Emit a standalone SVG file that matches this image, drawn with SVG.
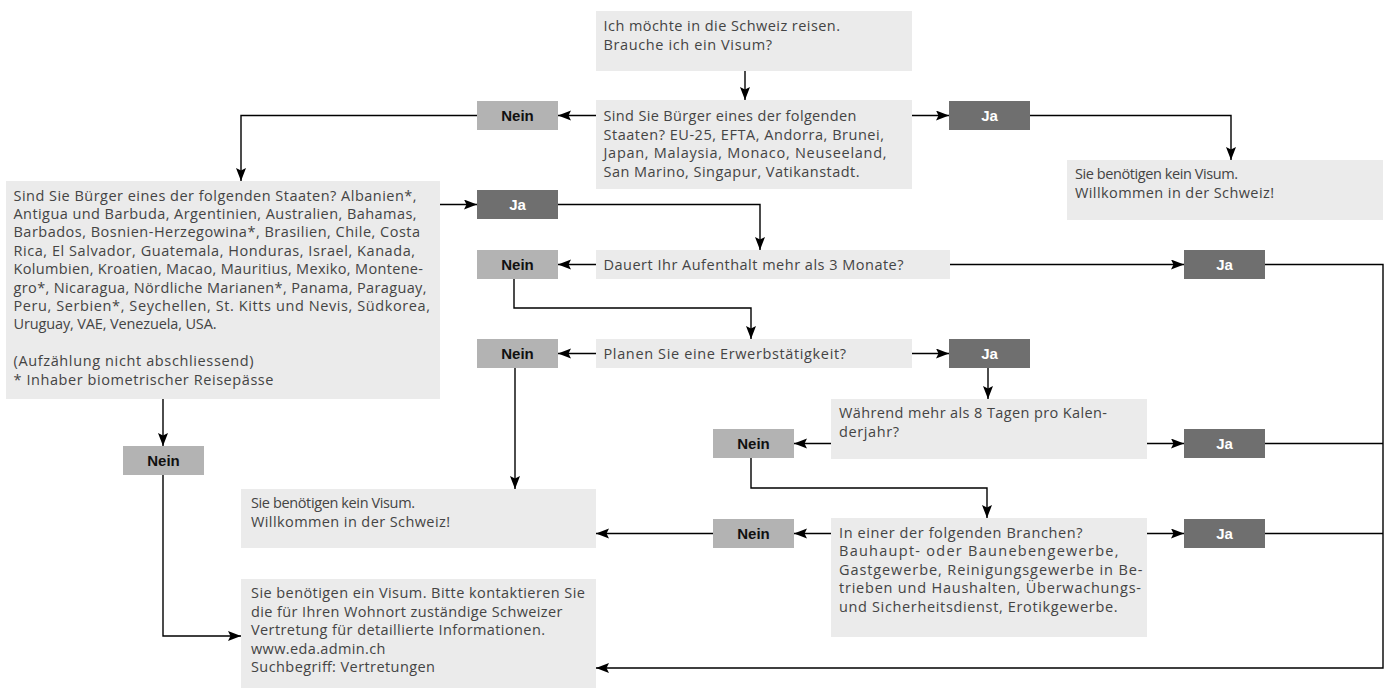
<svg xmlns="http://www.w3.org/2000/svg" width="1389" height="689" viewBox="0 0 1389 689">
<defs>
<style>
.box{fill:#ebebeb}
.nein{fill:#b3b3b3}
.ja{fill:#6f6f6f}
.t{font-family:"Open Sans","Liberation Sans",Arial,sans-serif;font-size:14.5px;fill:#444}
.nt{font-family:"Liberation Sans",Arial,sans-serif;font-size:15px;font-weight:bold;fill:#111;text-anchor:middle}
.jt{font-family:"Liberation Sans",Arial,sans-serif;font-size:15px;font-weight:bold;fill:#fff;text-anchor:middle}
.c{fill:none;stroke:#000;stroke-width:1.4}
.ca{fill:none;stroke:#000;stroke-width:1.4;marker-end:url(#ah)}
</style>
<marker id="ah" markerUnits="userSpaceOnUse" markerWidth="14" markerHeight="12" refX="13" refY="5" orient="auto">
<path d="M0,0 L13,5 L0,10 L2.5,5 z" fill="#000"/>
</marker>
</defs>
<rect width="1389" height="689" fill="#fff"/>

<g id="connectors">
<path class="ca" d="M745,71 V100"/>
<path class="ca" d="M597,115.5 H558"/>
<path class="ca" d="M912,115.5 H949"/>
<path class="ca" d="M477,115.5 H241 V181"/>
<path class="ca" d="M1030,115.5 H1231 V160"/>
<path class="ca" d="M440,204.5 H477"/>
<path class="ca" d="M558,204.5 H760 V250"/>
<path class="ca" d="M596,264.5 H558"/>
<path class="ca" d="M950,264.5 H1184"/>
<path class="ca" d="M514,279 V308 H751 V339"/>
<path class="ca" d="M596,353.5 H558"/>
<path class="ca" d="M912,353.5 H949"/>
<path class="ca" d="M988,368 V399"/>
<path class="ca" d="M515,368 V489"/>
<path class="ca" d="M163,399 V446"/>
<path class="ca" d="M163,475 V636 H241"/>
<path class="ca" d="M831,443.5 H794"/>
<path class="ca" d="M1147,443.5 H1184"/>
<path class="ca" d="M751,458 V488 H987 V518"/>
<path class="ca" d="M831,533.5 H794"/>
<path class="ca" d="M1147,533.5 H1184"/>
<path class="ca" d="M713,533.5 H596"/>
<path class="ca" d="M1265,264.5 H1383 V668 H596"/>
<path class="c" d="M1265,443.5 H1383"/>
<path class="c" d="M1265,533.5 H1383"/>
</g>

<g id="start">
<rect class="box" x="596" y="11" width="316" height="60"/>
<text class="t" x="603.5" y="31" textLength="236.5">Ich möchte in die Schweiz reisen.</text>
<text class="t" x="603.5" y="49.5" textLength="168.5">Brauche ich ein Visum?</text>
</g>

<g id="q1">
<rect class="box" x="596" y="100" width="316" height="89"/>
<text class="t" x="603.5" y="121" textLength="253">Sind Sie Bürger eines der folgenden</text>
<text class="t" x="603.5" y="139.5" textLength="280.5">Staaten? EU-25, EFTA, Andorra, Brunei,</text>
<text class="t" x="603.5" y="158" textLength="283">Japan, Malaysia, Monaco, Neuseeland,</text>
<text class="t" x="603.5" y="176.5" textLength="256">San Marino, Singapur, Vatikanstadt.</text>
</g>

<g id="nein1"><rect class="nein" x="477" y="101" width="81" height="29"/><text class="nt" x="517.5" y="121">Nein</text></g>
<g id="ja1"><rect class="ja" x="949" y="101" width="81" height="29"/><text class="jt" x="989.5" y="121">Ja</text></g>

<g id="result-no-visa-1">
<rect class="box" x="1067" y="160" width="316" height="60"/>
<text class="t" x="1075" y="179" textLength="163">Sie benötigen kein Visum.</text>
<text class="t" x="1075" y="197.5" textLength="199">Willkommen in der Schweiz!</text>
</g>

<g id="q2">
<rect class="box" x="6" y="181" width="434" height="218"/>
<text class="t" x="13.5" y="200.5" textLength="403">Sind Sie Bürger eines der folgenden Staaten? Albanien*,</text>
<text class="t" x="13.5" y="218.9" textLength="403">Antigua und Barbuda, Argentinien, Australien, Bahamas,</text>
<text class="t" x="13.5" y="237.3" textLength="406.5">Barbados, Bosnien-Herzegowina*, Brasilien, Chile, Costa</text>
<text class="t" x="13.5" y="255.7" textLength="401.5">Rica, El Salvador, Guatemala, Honduras, Israel, Kanada,</text>
<text class="t" x="13.5" y="274.1" textLength="409.5">Kolumbien, Kroatien, Macao, Mauritius, Mexiko, Montene-</text>
<text class="t" x="13.5" y="292.5" textLength="413">gro*, Nicaragua, Nördliche Marianen*, Panama, Paraguay,</text>
<text class="t" x="13.5" y="310.9" textLength="416.5">Peru, Serbien*, Seychellen, St. Kitts und Nevis, Südkorea,</text>
<text class="t" x="13.5" y="329.3" textLength="203">Uruguay, VAE, Venezuela, USA.</text>
<text class="t" x="13.5" y="366.1" textLength="240">(Aufzählung nicht abschliessend)</text>
<text class="t" x="13.5" y="384.5" textLength="260">* Inhaber biometrischer Reisepässe</text>
</g>

<g id="ja2"><rect class="ja" x="477" y="190" width="81" height="29"/><text class="jt" x="517.5" y="210">Ja</text></g>

<g id="q3">
<rect class="box" x="596" y="250" width="354" height="29"/>
<text class="t" x="603.5" y="270" textLength="300">Dauert Ihr Aufenthalt mehr als 3 Monate?</text>
</g>
<g id="nein2"><rect class="nein" x="477" y="250" width="81" height="29"/><text class="nt" x="517.5" y="270">Nein</text></g>
<g id="ja3"><rect class="ja" x="1184" y="250" width="81" height="29"/><text class="jt" x="1224.5" y="270">Ja</text></g>

<g id="q4">
<rect class="box" x="596" y="339" width="316" height="29"/>
<text class="t" x="603.5" y="359" textLength="242.5">Planen Sie eine Erwerbstätigkeit?</text>
</g>
<g id="nein3"><rect class="nein" x="477" y="339" width="81" height="29"/><text class="nt" x="517.5" y="359">Nein</text></g>
<g id="ja4"><rect class="ja" x="949" y="339" width="81" height="29"/><text class="jt" x="989.5" y="359">Ja</text></g>

<g id="nein-left"><rect class="nein" x="123" y="446" width="81" height="29"/><text class="nt" x="163.5" y="466">Nein</text></g>

<g id="q5">
<rect class="box" x="831" y="399" width="316" height="60"/>
<text class="t" x="839" y="418" textLength="268">Während mehr als 8 Tagen pro Kalen-</text>
<text class="t" x="839" y="436.5" textLength="60">derjahr?</text>
</g>
<g id="nein5"><rect class="nein" x="713" y="429" width="81" height="29"/><text class="nt" x="753.5" y="449">Nein</text></g>
<g id="ja5"><rect class="ja" x="1184" y="429" width="81" height="29"/><text class="jt" x="1224.5" y="449">Ja</text></g>

<g id="q6">
<rect class="box" x="831" y="518" width="316" height="119"/>
<text class="t" x="839" y="537.5" textLength="243.5">In einer der folgenden Branchen?</text>
<text class="t" x="839" y="556" textLength="279.5">Bauhaupt- oder Baunebengewerbe,</text>
<text class="t" x="839" y="574.5" textLength="303.5">Gastgewerbe, Reinigungsgewerbe in Be-</text>
<text class="t" x="839" y="593" textLength="302">trieben und Haushalten, Überwachungs-</text>
<text class="t" x="839" y="611.5" textLength="278.5">und Sicherheitsdienst, Erotikgewerbe.</text>
</g>
<g id="nein6"><rect class="nein" x="713" y="519" width="81" height="29"/><text class="nt" x="753.5" y="539">Nein</text></g>
<g id="ja6"><rect class="ja" x="1184" y="519" width="81" height="29"/><text class="jt" x="1224.5" y="539">Ja</text></g>

<g id="result-no-visa-2">
<rect class="box" x="241" y="489" width="355" height="59"/>
<text class="t" x="251" y="508" textLength="164">Sie benötigen kein Visum.</text>
<text class="t" x="251" y="526.5" textLength="199">Willkommen in der Schweiz!</text>
</g>

<g id="result-visa">
<rect class="box" x="241" y="579" width="355" height="109"/>
<text class="t" x="251" y="598" textLength="334">Sie benötigen ein Visum. Bitte kontaktieren Sie</text>
<text class="t" x="251" y="616.5" textLength="311.5">die für Ihren Wohnort zuständige Schweizer</text>
<text class="t" x="251" y="635" textLength="294">Vertretung für detaillierte Informationen.</text>
<text class="t" x="251" y="653.5" textLength="134.5">www.eda.admin.ch</text>
<text class="t" x="251" y="672" textLength="184">Suchbegriff: Vertretungen</text>
</g>
</svg>
